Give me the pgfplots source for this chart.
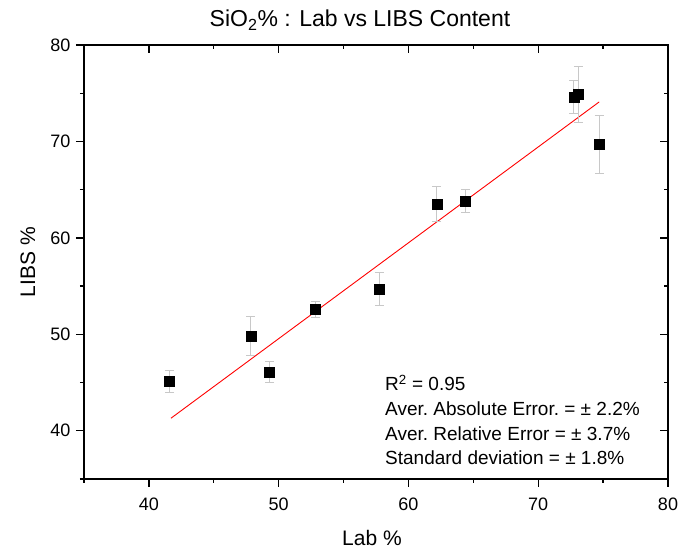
\documentclass[border=0pt]{standalone}
\usepackage{fontspec}
\setmainfont{Liberation Sans}
\usepackage{pgfplots}
\pgfplotsset{compat=1.18}
\definecolor{errgray}{RGB}{200,200,200}
\begin{document}
\begin{tikzpicture}
\pgfplotsset{
  common/.style={
    scale only axis, width=584pt, height=434pt,
    anchor=south west, at={(0pt,0pt)},
    xmin=35, xmax=80, ymin=35, ymax=80,
    xtick={40,50,60,70,80}, ytick={40,50,60,70,80},
    minor xtick={35,45,55,65,75}, minor ytick={35,45,55,65,75},
    major tick length=8pt, minor tick length=4pt,
    axis line style={line width=1.5pt},
    every tick/.style={line width=1.3pt, black},
    /pgf/number format/assume math mode=true,
    ticklabel style={font=\fontsize{18}{21}\selectfont},
  }
}
\begin{axis}[common, tick align=inside, tick pos=right,
  xticklabels={}, yticklabels={}]
\end{axis}
\begin{axis}[common, tick align=outside, tick pos=left,
  xticklabel style={yshift=-7pt}, yticklabel style={xshift=-2pt}]
\addplot[red, line width=0.9pt] coordinates {(41.7,41.3) (74.7,74.1)};
\addplot[only marks, mark=square*, mark size=5pt, mark options={black, fill=black},
  error bars/.cd, y dir=both, y explicit,
  error bar style={errgray, line width=1pt},
  error mark options={errgray, line width=1pt, mark size=4.5pt, rotate=90}]
  table[x=x, y=y, y error=e] {
x y e
41.6 45.1 1.1
47.85 49.8 2.0
49.3 46.1 1.1
52.8 52.6 0.85
57.75 54.7 1.75
62.2 63.5 1.85
64.4 63.8 1.2
72.75 74.6 1.7
73.1 74.9 2.9
74.7 69.7 3.0
};
\end{axis}
\node[font=\fontsize{23}{27}\selectfont] at (276pt,459pt) {SiO\textsubscript{2}\% : Lab vs LIBS Content};
\node[font=\fontsize{21}{25}\selectfont] at (288pt,-59pt) {Lab \%};
\node[font=\fontsize{21}{25}\selectfont, rotate=90] at (-56pt,217pt) {LIBS \%};
\begin{scope}[font=\fontsize{19}{22}\selectfont]
\node[anchor=west, inner sep=0pt] at (301pt,96pt) {R\textsuperscript{2} = 0.95};
\node[anchor=west, inner sep=0pt] at (301pt,70pt) {Aver.\ Absolute Error.\ = ± 2.2\%};
\node[anchor=west, inner sep=0pt] at (301pt,45pt) {Aver.\ Relative Error = ± 3.7\%};
\node[anchor=west, inner sep=0pt] at (301pt,21pt) {Standard deviation = ± 1.8\%};
\end{scope}
\pgfresetboundingbox
\path[use as bounding box] (-84pt,-74pt) rectangle (612pt,479pt);
\end{tikzpicture}
\end{document}
